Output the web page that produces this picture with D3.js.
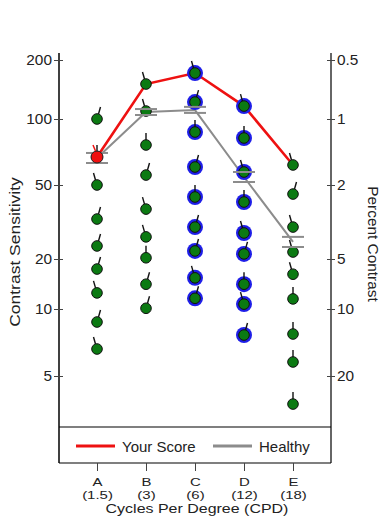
<!DOCTYPE html>
<html>
<head>
<meta charset="utf-8">
<script src="https://cdn.jsdelivr.net/npm/d3@7"></script>
<style>
  body { margin: 0; background: #fff; }
  text { font-family: "Liberation Sans", Arial, sans-serif; }
</style>
</head>
<body>
<div id="main"></div>
<script>
// categories on the x axis
const categories = ["A", "B", "C", "D", "E"];
const cpd = ["1.5", "3", "6", "12", "18"];
const ringed = ["C", "D"];

// grating contrast levels shown in each column (contrast sensitivity)
const levelsA = [100, 67.1, 50, 32.8, 23.5, 17.4, 12.5, 8.74, 6.61];
const levelsB = [150.8, 109.8, 76.1, 55.5, 37.1, 26.3, 20.3, 14.1, 10.1];
const levelsC = [171.6, 122, 87.2, 60.4, 43.1, 29.7, 22.1, 15.4, 11.6];
const levelsD = [116.4, 81.9, 57.3, 40.5, 27.6, 21.3, 14.1, 10.7, 7.64];
const levelsE = [61.7, 44.7, 29.7, 21.8, 16.2, 11.5, 7.72, 5.78, 3.74];

// grating tilt: -1 left, 0 vertical, 1 right
const tiltA = [1, 0, -1, 1, 1, 1, -1, 1, -1];
const tiltB = [-1, -1, 0, 1, -1, -1, 0, 1, 1];
const tiltC = [-1, 1, 0, 1, 0, 1, 1, -1, 1];
const tiltD = [-1, 0, -1, 0, -1, 1, 0, -1, 1];
const tiltE = [-1, 1, -1, -1, -1, 0, 0, 0, 0];

const yourScore = [67.1, 150.8, 171.6, 116.4, 61.7];
const healthy = [66.4, 108.6, 111.1, 54.4, 24.7];
const healthyLo = [63, 104.8, 107.4, 51.6, 23.2];
const healthyHi = [70, 112.4, 115.3, 57.3, 26.3];

const csTicks = [5, 10, 20, 50, 100, 200];
const pctTicks = [20, 10, 5, 2, 1, 0.5];

const legendNames = ["Your Score", "Healthy"];
const legendColors = ["#ee1111", "#8c8c8c"];

const ctx = {
    W: 388, H: 517,
    LEFT: 59, RIGHT: 331, TOP: 53, BOTTOM: 463, LEG_TOP: 427
};

function createViz() {
    const svg = d3.select("#main").append("svg")
        .attr("width", ctx.W).attr("height", ctx.H);
    const g = svg.append("g").attr("id", "mainG");

    const levels = [levelsA, levelsB, levelsC, levelsD, levelsE];
    const tilts = [tiltA, tiltB, tiltC, tiltD, tiltE];

    // tick spacing in the picture is not perfectly even, so a piecewise log scale
    const tickY = [376, 309, 259, 185, 119, 60];
    ctx.yScale = d3.scaleLog().domain(csTicks).range(tickY);
    ctx.pScale = d3.scaleLog().domain(pctTicks).range(tickY);
    ctx.xScale = d3.scalePoint().domain(categories).range([97, 293]);

    // frame
    g.append("line").attr("x1", ctx.LEFT).attr("x2", ctx.LEFT)
        .attr("y1", ctx.TOP).attr("y2", ctx.BOTTOM)
        .attr("stroke", "#000").attr("stroke-width", 1.5);
    g.append("line").attr("x1", ctx.RIGHT).attr("x2", ctx.RIGHT)
        .attr("y1", ctx.TOP).attr("y2", ctx.BOTTOM)
        .attr("stroke", "#333").attr("stroke-width", 1.5);
    g.append("line").attr("x1", ctx.LEFT).attr("x2", ctx.RIGHT)
        .attr("y1", ctx.BOTTOM).attr("y2", ctx.BOTTOM)
        .attr("stroke", "#000").attr("stroke-width", 1.2);
    g.append("line").attr("x1", ctx.LEFT).attr("x2", ctx.RIGHT)
        .attr("y1", ctx.LEG_TOP).attr("y2", ctx.LEG_TOP)
        .attr("stroke", "#000").attr("stroke-width", 1.2);

    // left axis
    g.append("g")
        .attr("transform", `translate(${ctx.LEFT},0)`)
        .call(d3.axisLeft(ctx.yScale).tickValues(csTicks)
            .tickFormat(d3.format("d")).tickSize(5).tickPadding(2))
        .call(a => a.select(".domain").remove())
        .call(a => a.selectAll(".tick line").attr("x1", 4).attr("stroke", "#444"))
        .call(a => a.selectAll(".tick text")
            .attr("x", 0)
            .attr("transform", "translate(-7,0) scale(1.1,1)")
            .attr("font-size", 14)
            .attr("font-family", "Liberation Sans, Arial, sans-serif")
            .style("fill", "#222"));

    // right axis
    g.append("g")
        .attr("transform", `translate(${ctx.RIGHT},0)`)
        .call(d3.axisRight(ctx.pScale).tickValues(pctTicks)
            .tickFormat(d => String(d)).tickSize(4).tickPadding(2))
        .call(a => a.select(".domain").remove())
        .call(a => a.selectAll(".tick line").attr("x1", -4).attr("stroke", "#444"))
        .call(a => a.selectAll(".tick text")
            .attr("x", 0)
            .attr("transform", "translate(6,0) scale(1.1,1)")
            .attr("font-size", 14)
            .attr("font-family", "Liberation Sans, Arial, sans-serif")
            .style("fill", "#222"));

    // bottom axis
    const xa = g.append("g")
        .attr("transform", `translate(0,${ctx.BOTTOM})`)
        .call(d3.axisBottom(ctx.xScale).tickSize(8).tickFormat(""))
        .call(a => a.select(".domain").remove())
        .call(a => a.selectAll(".tick line").attr("stroke", "#444"));
    xa.selectAll(".tick").each(function (d, i) {
        const t = d3.select(this);
        t.append("text").attr("text-anchor", "middle")
            .attr("transform", "translate(0,23) scale(1.3,1)")
            .attr("font-size", 11.5).style("fill", "#222").text(d);
        t.append("text").attr("text-anchor", "middle")
            .attr("transform", "translate(0,36) scale(1.3,1)")
            .attr("font-size", 11.5).style("fill", "#222").text(`(${cpd[i]})`);
    });
    g.append("text")
        .attr("transform", "translate(197,513) scale(1.3,1)")
        .attr("text-anchor", "middle").attr("font-size", 12.3)
        .style("fill", "#222")
        .text("Cycles Per Degree (CPD)");

    // axis titles
    g.append("text")
        .attr("transform", "translate(20,252) rotate(-90) scale(1.25,1)")
        .attr("text-anchor", "middle").attr("font-size", 14)
        .style("fill", "#222")
        .text("Contrast Sensitivity");
    g.append("text")
        .attr("transform", "translate(368,244) rotate(90) scale(1.1,1)")
        .attr("text-anchor", "middle").attr("font-size", 14)
        .style("fill", "#222")
        .text("Percent Contrast");

    // lines
    const line = d3.line()
        .x((d, i) => ctx.xScale(categories[i]))
        .y(d => ctx.yScale(d));
    g.append("path").datum(healthy)
        .attr("fill", "none").attr("stroke", legendColors[1])
        .attr("stroke-width", 2).attr("d", line);
    g.append("path").datum(yourScore)
        .attr("fill", "none").attr("stroke", legendColors[0])
        .attr("stroke-width", 2.6).attr("d", line);

    // grating points
    categories.forEach((c, i) => {
        const cx = ctx.xScale(c);
        levels[i].forEach((v, j) => {
            const cy = ctx.yScale(v);
            const tl = tilts[i][j];
            const p = g.append("g");
            if (ringed.includes(c)) {
                p.append("circle").attr("cx", cx).attr("cy", cy).attr("r", 8)
                    .attr("fill", "#1e1ee8");
            }
            p.append("line")
                .attr("x1", cx + tl * 1.5).attr("y1", cy - 5)
                .attr("x2", cx + tl * 3.5).attr("y2", cy - 12)
                .attr("stroke", "#111").attr("stroke-width", 1.4);
            p.append("circle").attr("cx", cx).attr("cy", cy).attr("r", 5.3)
                .attr("fill", "#0b7a12").attr("stroke", "#111")
                .attr("stroke-width", 1);
        });
    });

    // healthy error caps
    categories.forEach((c, i) => {
        const cx = ctx.xScale(c);
        [healthyLo[i], healthyHi[i]].forEach(v => {
            g.append("line")
                .attr("x1", cx - 11).attr("x2", cx + 11)
                .attr("y1", ctx.yScale(v)).attr("y2", ctx.yScale(v))
                .attr("stroke", legendColors[1]).attr("stroke-width", 2);
        });
    });

    // your score marker on column A
    const rx = ctx.xScale(categories[0]);
    const ry = ctx.yScale(yourScore[0]);
    g.append("circle").attr("cx", rx).attr("cy", ry).attr("r", 6)
        .attr("fill", "#f01010").attr("stroke", "#222").attr("stroke-width", 1);
    g.append("line")
        .attr("x1", rx - 1.5).attr("y1", ry - 6)
        .attr("x2", rx - 4).attr("y2", ry - 12)
        .attr("stroke", "#f01010").attr("stroke-width", 1.5);

    // legend
    const legX = [76, 213];
    legendNames.forEach((n, i) => {
        g.append("line")
            .attr("x1", legX[i]).attr("x2", legX[i] + 39)
            .attr("y1", 446).attr("y2", 446)
            .attr("stroke", legendColors[i]).attr("stroke-width", 3);
        g.append("text")
            .attr("x", legX[i] + 46).attr("y", 452)
            .attr("font-size", 15).style("fill", "#222")
            .text(n);
    });
}

createViz();
</script>
</body>
</html>
